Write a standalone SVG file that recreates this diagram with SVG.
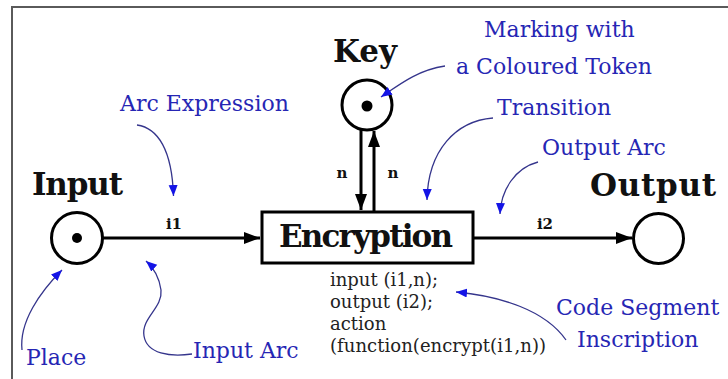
<svg xmlns="http://www.w3.org/2000/svg" width="728" height="379" viewBox="0 0 728 379">
<defs>
<style>
.bold{font-family:"DejaVu Serif","Liberation Serif",serif;font-weight:bold;fill:#111}
.code{font-family:"DejaVu Serif","Liberation Serif",serif;font-size:18px;fill:#222}
.blue{font-family:"DejaVu Serif","Liberation Serif",serif;font-size:22px;fill:#2626b4}
.place{fill:#fff;stroke:#000;stroke-width:3}
.arc{fill:none;stroke:#000;stroke-width:3}
.lead{fill:none;stroke:#35358c;stroke-width:1.3}
</style>
<marker id="ah" markerUnits="userSpaceOnUse" markerWidth="18" markerHeight="14" refX="16" refY="6" orient="auto">
<path d="M0,0 L16,6 L0,12 Z" fill="#000"/>
</marker>
<marker id="bh" markerUnits="userSpaceOnUse" markerWidth="12" markerHeight="10" refX="11" refY="4.5" orient="auto">
<path d="M0,0 L11,4.5 L0,9 Z" fill="#1414e6"/>
</marker>
</defs>
<rect x="0" y="0" width="728" height="379" fill="#fff"/>
<rect x="12" y="7" width="740" height="400" fill="none" stroke="#5a5a5a" stroke-width="2"/>

<g id="connectors">
<line class="arc" x1="103" y1="238" x2="260" y2="238" marker-end="url(#ah)"/>
<line class="arc" x1="473" y1="238" x2="632" y2="238" marker-end="url(#ah)"/>
<line class="arc" x1="361" y1="129" x2="361" y2="210" marker-end="url(#ah)"/>
<line class="arc" x1="374" y1="211" x2="374" y2="131" marker-end="url(#ah)"/>
<text class="bold" x="174" y="229" font-size="15" text-anchor="middle">i1</text>
<text class="bold" x="545" y="229" font-size="15" text-anchor="middle">i2</text>
<text class="bold" x="342" y="178" font-size="15" text-anchor="middle">n</text>
<text class="bold" x="393" y="178" font-size="15" text-anchor="middle">n</text>
</g>

<g id="input-place">
<circle class="place" cx="77" cy="238" r="25.5"/>
<circle cx="77" cy="238" r="5" fill="#000"/>
<text class="bold" x="32" y="195" font-size="31" textLength="91">Input</text>
</g>

<g id="key-place">
<circle class="place" cx="367" cy="105" r="25"/>
<circle cx="367" cy="106" r="5.5" fill="#000"/>
<text class="bold" x="333" y="62" font-size="31" textLength="64">Key</text>
</g>

<g id="output-place">
<circle class="place" cx="658.5" cy="238.5" r="25"/>
<text class="bold" x="590" y="196" font-size="31" textLength="126">Output</text>
</g>

<g id="encryption-transition">
<rect x="262" y="212" width="211" height="51" fill="#fff" stroke="#000" stroke-width="3"/>
<text class="bold" x="279" y="247" font-size="31" textLength="174">Encryption</text>
<text class="code" x="330" y="286">input (i1,n);</text>
<text class="code" x="330" y="308">output (i2);</text>
<text class="code" x="330" y="330">action</text>
<text class="code" x="330" y="352" textLength="216">(function(encrypt(i1,n))</text>
</g>

<g id="annotations">
<path class="lead" d="M137,125 C158,128 172,150 173.5,196" marker-end="url(#bh)"/>
<text class="blue" x="120" y="111">Arc Expression</text>
<path class="lead" d="M445,66 C418,70 400,84 381,97" marker-end="url(#bh)"/>
<text class="blue" x="484" y="37">Marking with</text>
<text class="blue" x="456" y="74">a Coloured Token</text>
<path class="lead" d="M493,118 C456,121 428,150 427,200" marker-end="url(#bh)"/>
<text class="blue" x="497" y="115">Transition</text>
<path class="lead" d="M538,162 C515,168 501,190 500,214" marker-end="url(#bh)"/>
<text class="blue" x="542" y="155">Output Arc</text>
<path class="lead" d="M22,350 C19,322 40,292 62,270" marker-end="url(#bh)"/>
<text class="blue" x="26" y="365">Place</text>
<path class="lead" d="M192,354 C170,357 147,354 144,336 C141,318 163,308 161,290 C159,276 154,268 146,261" marker-end="url(#bh)"/>
<text class="blue" x="193" y="358">Input Arc</text>
<path class="lead" d="M566,340 C545,310 500,296 456,292" marker-end="url(#bh)"/>
<text class="blue" x="556" y="315">Code Segment</text>
<text class="blue" x="577" y="347">Inscription</text>
</g>
</svg>
